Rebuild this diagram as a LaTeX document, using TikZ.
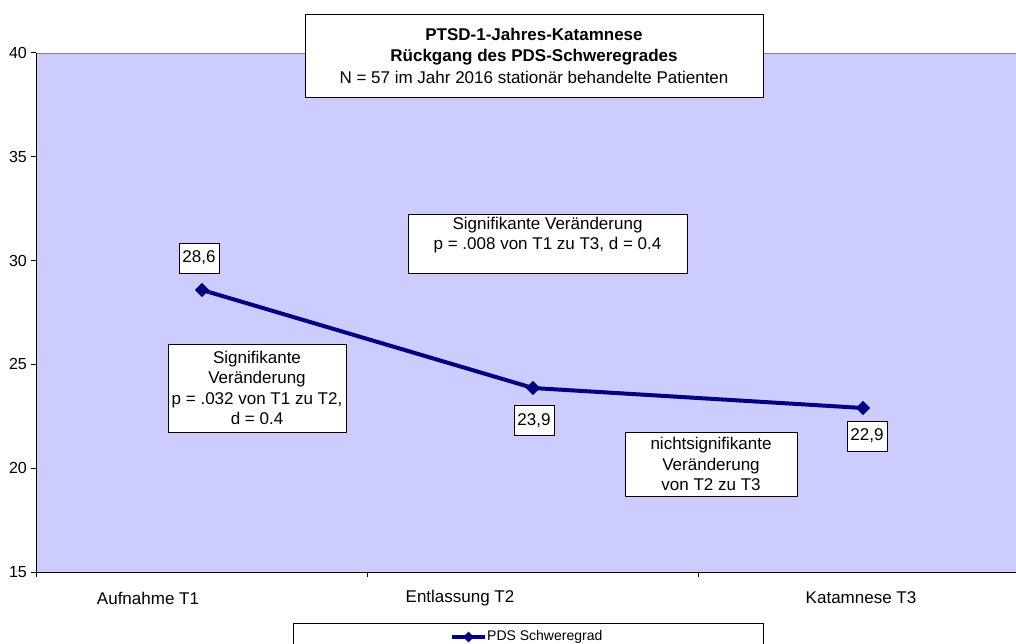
\documentclass[tikz,border=0pt]{standalone}
\usepackage{fontspec}
\setmainfont{Liberation Sans}
\usetikzlibrary{
  calc,
  positioning,
  shapes.geometric
}
\definecolor{plotblue}{RGB}{204,204,255}
\definecolor{seriesnavy}{RGB}{0,0,128}
\definecolor{framegray}{RGB}{128,128,128}
\tikzset{
  notebox/.style={draw=black,fill=white,align=center,inner sep=0pt,
    font=\fontsize{17}{20.5}\selectfont},
  titlebox/.style={notebox,font=\fontsize{17}{21.5}\selectfont},
  valbox/.style={draw=black,fill=white,inner sep=0pt,
    minimum width=40,minimum height=30,font=\fontsize{17}{20}\selectfont},
  datapt/.style={diamond,fill=seriesnavy,inner sep=0pt,minimum size=14},
  seriesline/.style={line width=4pt,draw=seriesnavy},
  axisline/.style={draw=black,line width=1pt},
  ticklab/.style={anchor=east,inner sep=0pt,font=\fontsize{16}{18}\selectfont},
  catlab/.style={inner sep=0pt,font=\fontsize{17}{20}\selectfont},
  legtext/.style={anchor=west,inner sep=0pt,font=\fontsize{14}{16}\selectfont}
}

\begin{document}
\begin{tikzpicture}[x=1pt,y=-1pt]
  \useasboundingbox (0,0) rectangle (1016,644);
  \clip (0,0) rectangle (1016,644);
  \fill[white] (0,0) rectangle (1016,644);

  % plot area
  \fill[plotblue] (36,53) rectangle (1016,572);
  \draw[framegray] (36,53) -- (1016,53);
  \draw[axisline] (36,53) -- (36,572) -- (1016,572);
  \foreach \v [count=\k from 0] in {40,35,30,25,20,15} {
    \draw[axisline] (31,53+103.8*\k) -- (36,53+103.8*\k);
    \node[ticklab] (tick\v) at (27,53+103.8*\k) {\v};
  }
  \foreach \x in {36,367,698}
    \draw[axisline] (\x,572) -- (\x,577);

  % categories
  \node[catlab] (catA) at (148,598) {Aufnahme T1};
  \node[catlab] (catB) at (460,598) {Entlassung T2};
  \node[catlab] (catC) at (861,598) {Katamnese T3};

  % series
  \node[datapt] (p1) at (202,290) {};
  \node[datapt] (p2) at (533,388) {};
  \node[datapt] (p3) at (863,408) {};
  \draw[seriesline] (p1.center) -- (p2.center) -- (p3.center);
  \node[datapt] at (p1) {};
  \node[datapt] at (p2) {};
  \node[datapt] at (p3) {};

  \node[valbox] (v1) at (199,258) {28,6};
  \node[valbox] (v2) at (534,420.5) {23,9};
  \node[valbox] (v3) at (867,436) {22,9};

  % notes
  \node[titlebox,minimum width=458,minimum height=83] (title) at (534,55.5) {
    \textbf{PTSD-1-Jahres-Katamnese}\\
    \textbf{Rückgang des PDS-Schweregrades}\\
    N = 57 im Jahr 2016 stationär behandelte Patienten};
  \node[notebox,minimum width=279,minimum height=59] (sigAC) at (547.5,243.5) {
    Signifikante Veränderung\\
    p = .008 von T1 zu T3, d = 0.4\\ \mbox{}};
  \node[notebox,minimum width=178,minimum height=88] (sigAB) at (257,388) {
    Signifikante\\
    Veränderung\\
    p = .032 von T1 zu T2,\\
    d = 0.4};
  \node[notebox,minimum width=172,minimum height=64] (nsBC) at (711,464) {
    nichtsignifikante\\
    Veränderung\\
    von T2 zu T3};

  % legend
  \node[draw=black,fill=white,minimum width=470,minimum height=44,
    anchor=north west] (legend) at (293,623) {};
  \coordinate (legL) at (452,637);
  \coordinate (legR) at (485,637);
  \draw[seriesline,line width=3.5pt] (legL) -- (legR);
  \node[datapt,minimum size=11] (legmark) at ($(legL)!0.5!(legR)$) {};
  \node[legtext] (legname) at (487,637) {PDS Schweregrad};
\end{tikzpicture}
\end{document}
